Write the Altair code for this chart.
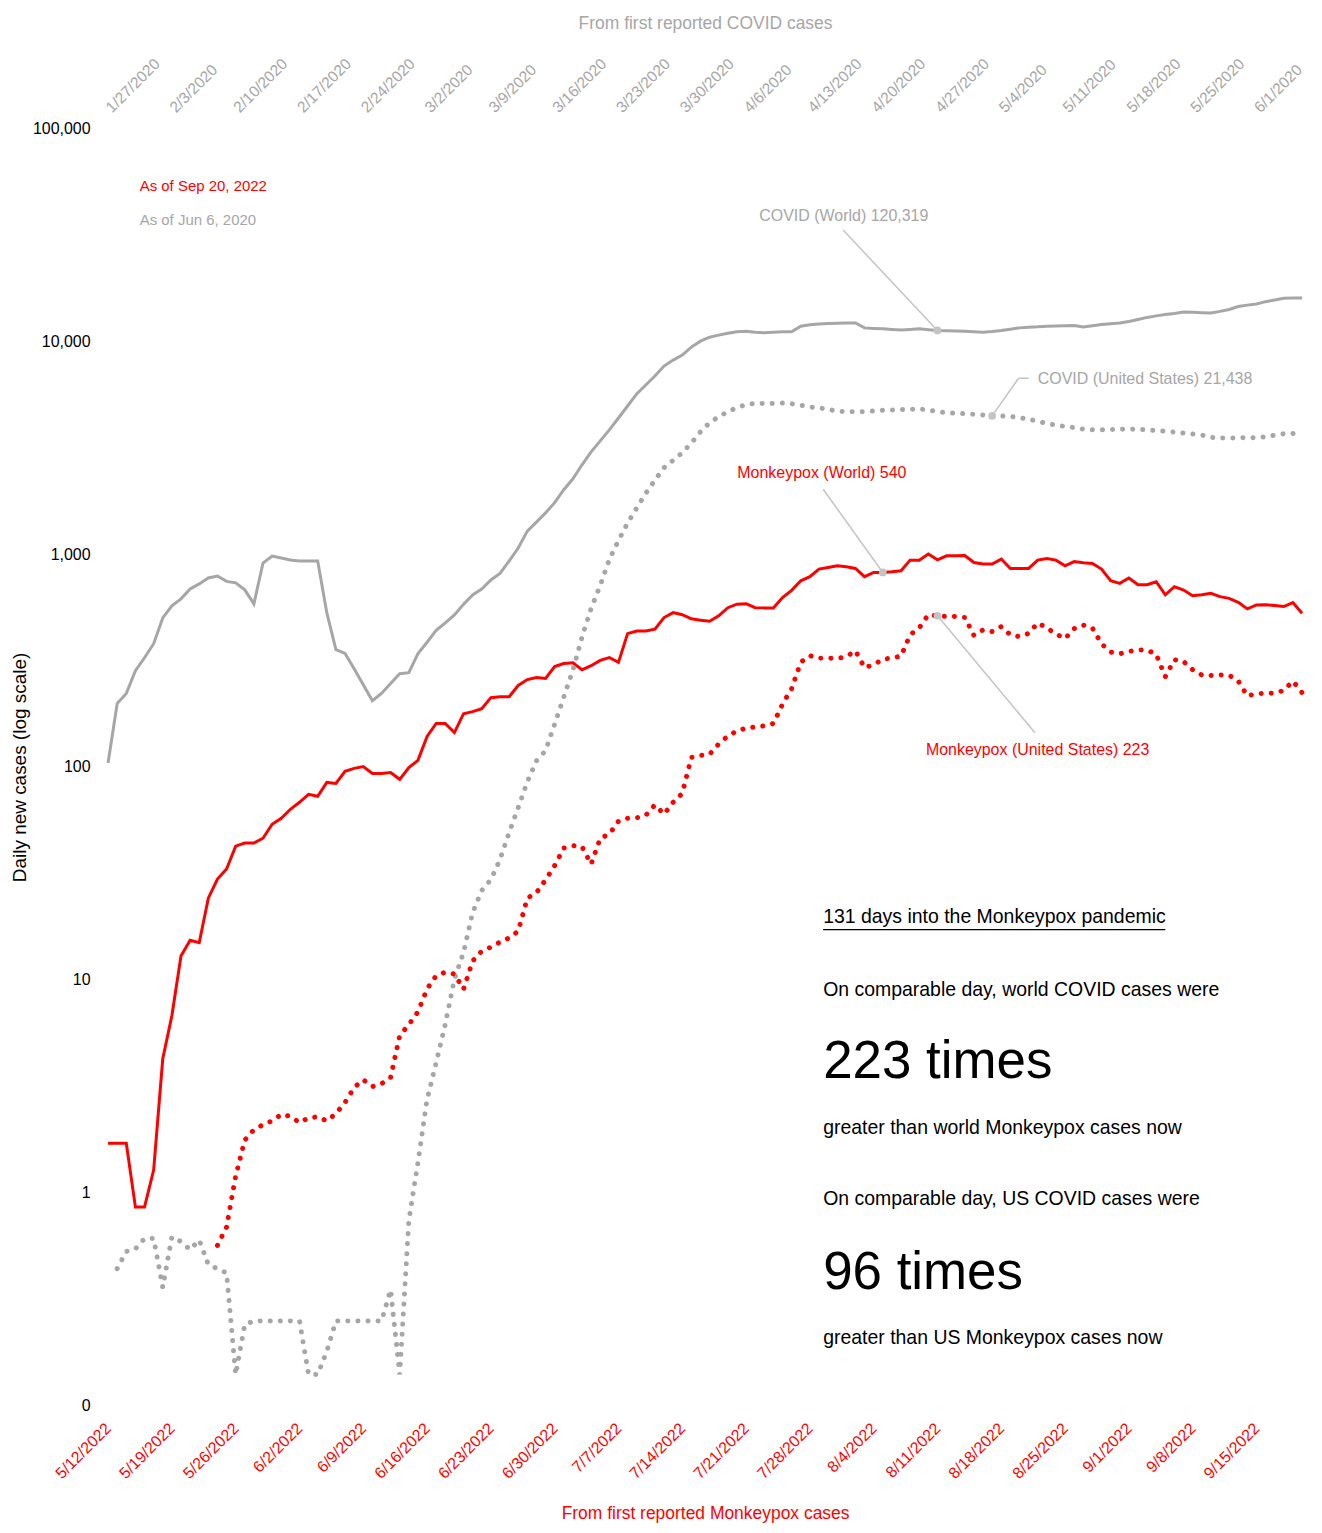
import json
import altair as alt
import pandas as pd

# ---------------- data, day 0 .. day 131 ----------------
days = list(range(132))

covid_world = [
    105, 200, 223, 285, 328, 382, 505, 575, 621, 691,
    730, 778, 795, 750, 738, 684, 588, 915, 987, 966,
    945, 935, 935, 935, 534, 358, 344, 291, 245, 206,
    223, 248, 276, 279, 343, 388, 442, 479, 522, 585,
    648, 691, 762, 817, 935, 1076, 1293, 1425, 1575, 1759,
    2024, 2279, 2651, 3050, 3435, 3869, 4400, 5010, 5706, 6288,
    6930, 7721, 8234, 8693, 9475, 10110, 10550, 10790, 11020, 11200,
    11260, 11140, 11080, 11140, 11180, 11180, 11890, 12080, 12180, 12240,
    12280, 12300, 12310, 11670, 11600, 11550, 11480, 11420, 11480, 11550,
    11450, 11350, 11320, 11290, 11260, 11200, 11140, 11230, 11350, 11510,
    11670, 11740, 11800, 11890, 11910, 11950, 11970, 11790, 11950, 12100,
    12210, 12310, 12510, 12780, 13070, 13290, 13480, 13650, 13870, 13810,
    13750, 13720, 13950, 14250, 14700, 14930, 15110, 15500, 15790, 16080,
    16110, 16110,
]

covid_us = [
    None, 0.44, 0.53, 0.545, 0.61, 0.61, 0.36, 0.62, 0.59, 0.54,
    0.6, 0.46, 0.44, 0.42, 0.14, 0.24, 0.25, 0.25, 0.25, 0.25,
    0.25, 0.25, 0.14, 0.14, 0.18, 0.25, 0.25, 0.25, 0.25, 0.25,
    0.25, 0.35, 0.14, 0.74, 1.39, 2.75, 4.1, 6.22, 10.1, 13.5,
    20.8, 26.4, 29.7, 36.9, 49.4, 64.7, 85.7, 107.5, 120, 160,
    214.5, 287, 410, 560, 718, 951, 1168, 1409, 1659, 1946,
    2242, 2568, 2784, 3020, 3353, 3788, 4180, 4465, 4708, 4926,
    5087, 5149, 5149, 5149, 5170, 5133, 5050, 4958, 4910, 4831,
    4736, 4712, 4712, 4712, 4747, 4783, 4799, 4816, 4838, 4852,
    4794, 4712, 4661, 4630, 4608, 4582, 4547, 4498, 4498, 4475,
    4417, 4342, 4244, 4145, 4074, 4012, 3965, 3901, 3869, 3869,
    3882, 3899, 3899, 3899, 3869, 3842, 3814, 3777, 3737, 3697,
    3657, 3571, 3540, 3536, 3548, 3548, 3559, 3584, 3653, 3709,
    3717, 3681,
]

mpox_world = [
    1.71, 1.71, 1.71, 0.857, 0.857, 1.28, 4.27, 6.8, 13.0, 15.4,
    15.0, 24.3, 29.9, 33.3, 42.7, 44.1, 44.1, 46.5, 54.1, 57.7,
    63.6, 68.6, 74.8, 73.2, 85.1, 84.2, 95.9, 99.1, 101, 93.8,
    93.8, 94.8, 88, 100, 108, 140, 161, 161, 146, 179,
    183, 189, 213, 215, 215, 243, 259, 265, 262, 298,
    308, 311, 288, 301, 319, 329, 312, 426, 438, 438,
    447, 507, 535, 523, 500, 493, 487, 517, 564, 586,
    589, 564, 563, 563, 630, 681, 755, 789, 857, 872,
    888, 878, 863, 789, 826, 826, 832, 841, 944, 944,
    1008, 948, 989, 989, 992, 920, 905, 905, 955, 863,
    863, 863, 944, 961, 944, 888, 930, 917, 911, 857,
    755, 734, 778, 723, 723, 747, 649, 708, 683, 642,
    649, 659, 636, 624, 598, 557, 581, 583, 577, 571,
    596, 531,
]

mpox_us = [
    None, None, None, None, None, None, None, None, None, None,
    None, None, 0.566, 0.69, 1.2, 1.77, 1.98, 2.09, 2.18, 2.34,
    2.29, 2.14, 2.25, 2.28, 2.18, 2.36, 2.66, 3.13, 3.40, 3.16,
    3.26, 3.49, 5.49, 6.18, 7.1, 9.1, 10.5, 10.9, 10.7, 9.07,
    12.3, 13.7, 14.3, 15.1, 15.8, 17.0, 24.3, 25.8, 29.6, 34.6,
    41.8, 42.9, 42.4, 35.1, 46.5, 48.6, 55.9, 57.7, 58.0, 59.6,
    66.7, 60.3, 68.6, 75.6, 111.5, 114, 115.4, 129, 140.7, 148.5,
    153.2, 155, 156.9, 161, 198.7, 234.8, 312.7, 335.5, 327, 326,
    326, 331.8, 354, 294.7, 304.3, 323, 327, 334, 420.7, 453.8,
    523, 516.6, 513, 513, 507.7, 418, 444, 435.9, 459.6, 420.7,
    412.6, 426.7, 477.9, 453.8, 423.9, 403.9, 449.9, 467.2, 452, 381.8,
    349, 342.6, 351.3, 356.6, 356.6, 340.5, 267.4, 321.2, 315, 288.4,
    272.3, 270.9, 272, 271.8, 255.2, 217, 222.5, 223.3, 223.3, 230.4,
    254.7, 225,
]

tick_days = list(range(0, 127, 7))
bottom_labels = ["5/12/2022", "5/19/2022", "5/26/2022", "6/2/2022", "6/9/2022",
                 "6/16/2022", "6/23/2022", "6/30/2022", "7/7/2022", "7/14/2022",
                 "7/21/2022", "7/28/2022", "8/4/2022", "8/11/2022", "8/18/2022",
                 "8/25/2022", "9/1/2022", "9/8/2022", "9/15/2022"]
top_labels = ["1/27/2020", "2/3/2020", "2/10/2020", "2/17/2020", "2/24/2020",
              "3/2/2020", "3/9/2020", "3/16/2020", "3/23/2020", "3/30/2020",
              "4/6/2020", "4/13/2020", "4/20/2020", "4/27/2020", "5/4/2020",
              "5/11/2020", "5/18/2020", "5/25/2020", "6/1/2020"]
y_ticks = [0.1, 1, 10, 100, 1000, 10000, 100000]
y_tick_labels = ["0", "1", "10", "100", "1,000", "10,000", "100,000"]

# highlighted points, by day
mark_cw, mark_cu, mark_mw, mark_mu = 91, 97, 85, 91

# ---------------- styling ----------------
GRAY = "#a6a6a6"
RED = "#ff0000"
LEADER = "#c4c4c4"
FONT = "Liberation Sans, Arial, sans-serif"
PLOT_W = 1196.7
PLOT_H = 1279

def series_df(vals, name):
    return pd.DataFrame([{"day": d, "value": v, "series": name}
                         for d, v in zip(days, vals) if v is not None])

df_cw = series_df(covid_world, "COVID (World)")
df_cu = series_df(covid_us, "COVID (United States)")
df_mw = series_df(mpox_world, "Monkeypox (World)")
df_mu = series_df(mpox_us, "Monkeypox (United States)")

xscale = alt.Scale(domain=[0, 131], nice=False, zero=False)
yscale = alt.Scale(type="log", domain=[0.1, 100000], nice=False)

bottom_axis = alt.Axis(
    orient="bottom", values=tick_days,
    labelExpr=json.dumps(bottom_labels) + "[round(datum.value/7)]",
    labelAngle=-45, labelAlign="right", labelBaseline="middle",
    labelColor=RED, labelFontSize=16, labelFont=FONT, labelPadding=20,
    labelOverlap=False, labelBound=False, labelFlush=False,
    ticks=False, domain=False, grid=False,
    title="From first reported Monkeypox cases", titleColor=RED,
    titleFont=FONT, titleFontSize=17.5, titleFontWeight="normal",
    titleX=PLOT_W / 2, titleY=113, titleAlign="center", titleBaseline="alphabetic",
)
top_axis = alt.Axis(
    orient="top", values=tick_days,
    labelExpr=json.dumps(top_labels) + "[round(datum.value/7)]",
    labelAngle=-45, labelAlign="left", labelBaseline="middle",
    labelColor=GRAY, labelFontSize=15.5, labelFont=FONT, labelPadding=20,
    labelOverlap=False, labelBound=False, labelFlush=False,
    ticks=False, domain=False, grid=False,
    title="From first reported COVID cases", titleColor=GRAY,
    titleFont=FONT, titleFontSize=17.5, titleFontWeight="normal",
    titleX=PLOT_W / 2, titleY=-101, titleAlign="center", titleBaseline="alphabetic",
)

def X(field="day", axis=None):
    return alt.X(f"{field}:Q", scale=xscale, axis=axis)

def Y(field="value"):
    return alt.Y(f"{field}:Q", scale=yscale, axis=None)

red_solid = alt.Chart(df_mw).mark_line(color=RED, strokeWidth=3).encode(
    x=X(axis=bottom_axis), y=Y())
gray_solid = alt.Chart(df_cw).mark_line(color=GRAY, strokeWidth=3).encode(
    x=X(axis=top_axis), y=Y())
gray_dot = alt.Chart(df_cu).mark_line(
    color=GRAY, strokeWidth=5, strokeDash=[0.1, 10], strokeCap="round"
).encode(x=X(), y=Y())
red_dot = alt.Chart(df_mu).mark_line(
    color=RED, strokeWidth=5, strokeDash=[0.1, 10], strokeCap="round"
).encode(x=X(), y=Y())

# y axis labels and title, placed through the scales
ylab = pd.DataFrame({"day": [-1.92] * len(y_ticks), "value": y_ticks, "text": y_tick_labels})
ylab_layer = alt.Chart(ylab).mark_text(
    align="right", baseline="middle", font=FONT, fontSize=16, color="black"
).encode(x=X(), y=Y(), text="text:N")
ytitle = pd.DataFrame([{"day": -9.63, "value": 100, "text": "Daily new cases (log scale)"}])
ytitle_layer = alt.Chart(ytitle).mark_text(
    align="center", baseline="middle", font=FONT, fontSize=19, color="black", angle=270
).encode(x=X(), y=Y(), text="text:N")

# leader lines (data coordinates)
leaders = pd.DataFrame([
    {"x": 80.65, "y": 33650, "x2": mark_cw, "y2": covid_world[mark_cw]},
    {"x": mark_cu, "y": covid_us[mark_cu], "x2": 99.9, "y2": 6764},
    {"x": 99.9, "y": 6764, "x2": 101.0, "y2": 6764},
    {"x": 78.46, "y": 2035, "x2": mark_mw, "y2": mpox_world[mark_mw]},
    {"x": mark_mu, "y": mpox_us[mark_mu], "x2": 101.7, "y2": 145.6},
])
leader_layer = alt.Chart(leaders).mark_rule(color=LEADER, strokeWidth=1.5).encode(
    x=X("x"), y=Y("y"), x2="x2:Q", y2="y2:Q")

markers = pd.DataFrame([
    {"day": mark_cw, "value": covid_world[mark_cw]},
    {"day": mark_cu, "value": covid_us[mark_cu]},
    {"day": mark_mw, "value": mpox_world[mark_mw]},
    {"day": mark_mu, "value": mpox_us[mark_mu]},
])
marker_layer = alt.Chart(markers).mark_circle(color=LEADER, opacity=1, size=60).encode(
    x=X(), y=Y())

# text annotations
labels = pd.DataFrame([
    {"day": 3.47, "value": 51600, "text": "As of Sep 20, 2022", "color": RED, "fs": 15},
    {"day": 3.47, "value": 35370, "text": "As of Jun 6, 2020", "color": GRAY, "fs": 15},
    {"day": 71.45, "value": 37120, "text": "COVID (World) 120,319", "color": GRAY, "fs": 16},
    {"day": 102.0, "value": 6322, "text": "COVID (United States) 21,438", "color": GRAY, "fs": 16},
    {"day": 69.04, "value": 2292, "text": "Monkeypox (World) 540", "color": RED, "fs": 16},
    {"day": 89.73, "value": 114, "text": "Monkeypox (United States) 223", "color": RED, "fs": 16},
    {"day": 78.46, "value": 18.5, "text": "131 days into the Monkeypox pandemic", "color": "black", "fs": 19.5},
    {"day": 78.46, "value": 8.45, "text": "On comparable day, world COVID cases were", "color": "black", "fs": 19.5},
    {"day": 78.46, "value": 3.486, "text": "223 times", "color": "black", "fs": 53},
    {"day": 78.46, "value": 1.884, "text": "greater than world Monkeypox cases now", "color": "black", "fs": 19.5},
    {"day": 78.46, "value": 0.876, "text": "On comparable day, US COVID cases were", "color": "black", "fs": 19.5},
    {"day": 78.46, "value": 0.3535, "text": "96 times", "color": "black", "fs": 53},
    {"day": 78.46, "value": 0.1953, "text": "greater than US Monkeypox cases now", "color": "black", "fs": 19.5},
])
text_layer = alt.Chart(labels).mark_text(
    align="left", baseline="alphabetic", font=FONT
).encode(
    x=X(), y=Y(),
    text="text:N",
    color=alt.Color("color:N", scale=None),
    size=alt.Size("fs:Q", scale=None),
)

underline = pd.DataFrame([{"x": 78.46, "x2": 116.0, "y": 17.3}])
underline_layer = alt.Chart(underline).mark_rule(color="black", strokeWidth=1.2).encode(
    x=X("x"), x2="x2:Q", y=Y("y"))

chart = alt.layer(
    red_solid, gray_solid, gray_dot, red_dot,
    leader_layer, marker_layer, text_layer, underline_layer,
    ylab_layer, ytitle_layer,
).resolve_axis(x="independent").properties(
    width=PLOT_W, height=PLOT_H,
    autosize=alt.AutoSizeParams(type="none"),
    padding={"left": 100.3, "top": 120, "right": 12, "bottom": 118},
).configure(font=FONT).configure_view(stroke=None)

chart.save("out.html", embed_options={"renderer": "svg", "actions": False})
